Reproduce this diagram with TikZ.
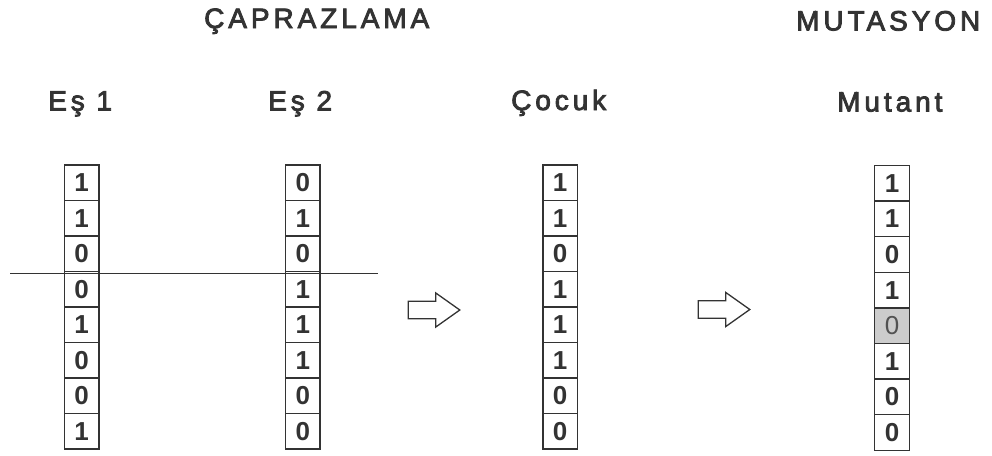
\documentclass[tikz,border=0pt]{standalone}
\usepackage{fontspec}
\setmainfont{Liberation Sans}
\newfontfamily\headfont[LetterSpace=14,FakeBold=3]{Liberation Sans}
\definecolor{ink}{HTML}{333333}
\definecolor{flip}{HTML}{CCCCCC}
\begin{document}
\begin{tikzpicture}[x=1pt,y=-1pt,
  bit/.style={draw=ink, line width=1.2pt, minimum width=34.5pt, minimum height=35.5pt,
    inner sep=0pt, outer sep=0pt, font=\fontsize{26}{26}\selectfont\bfseries, text=ink},
  flipped/.style={bit, fill=flip, font=\fontsize{26}{26}\selectfont, text=ink!85},
  heading/.style={font=\headfont\fontsize{28}{28}\selectfont, text=ink, anchor=base west, inner sep=0pt},
  cutline/.style={draw=ink, line width=1.3pt},
  blockarrow/.style={draw=ink, line width=1.3pt, line join=miter}]

\useasboundingbox (0,0) rectangle (992,455);

% section and column headings
\node[heading] (cross) at (204,28) {ÇAPRAZLAMA};
\node[heading] (mut)   at (796,30.5) {MUTASYON};
\node[heading] (h1) at (48,110.5) {Eş 1};
\node[heading] (h2) at (268,110.5) {Eş 2};
\node[heading] (h3) at (511,110) {Çocuk};
\node[heading] (h4) at (837,111.5) {Mutant};

% parent chromosomes
\foreach \b [count=\i] in {1,1,0,0,1,0,0,1}
  \node[bit] (p\i) at (81.7,{165+35.5*(\i-0.5)}) {\b};
\foreach \b [count=\i] in {0,1,0,1,1,1,0,0}
  \node[bit] (q\i) at (302.8,{165+35.5*(\i-0.5)}) {\b};

% crossover point
\coordinate (cutL) at (10,273.5);
\coordinate (cutR) at (378,273.5);
\draw[cutline] (cutL) -- (cutR);

% offspring
\foreach \b [count=\i] in {1,1,0,1,1,1,0,0}
  \node[bit] (c\i) at (560.2,{165+35.5*(\i-0.5)}) {\b};

% mutant, fifth gene flipped
\foreach \b/\s [count=\i] in {1/bit,1/bit,0/bit,1/bit,0/flipped,1/bit,0/bit,0/bit}
  \node[\s] (m\i) at (892,{165.5+35.6*(\i-0.5)}) {\b};

% block arrows between the stages
\coordinate (arrA) at (408.3,310);
\coordinate (arrB) at (698.3,309.5);
\foreach \a in {arrA,arrB}
  \draw[blockarrow] (\a) ++(0,-8.7) -- ++(27.5,0) -- ++(0,-8.3) -- ++(24,17)
    -- ++(-24,17) -- ++(0,-8.3) -- ++(-27.5,0) -- cycle;
\end{tikzpicture}
\end{document}
